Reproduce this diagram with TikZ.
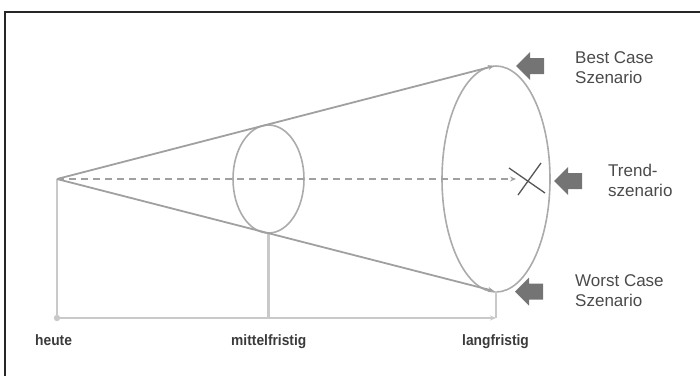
\documentclass[tikz,border=0pt]{standalone}
\usepackage{fontspec}
\usepackage{graphicx}
\setmainfont{Liberation Sans}
\usetikzlibrary{shapes.geometric,arrows.meta}
\definecolor{linegray}{HTML}{A0A0A0}
\definecolor{ellgray}{HTML}{ABABAB}
\definecolor{axisgray}{HTML}{C9C9C9}
\definecolor{blockgray}{HTML}{747474}
\definecolor{xgray}{HTML}{555555}
\definecolor{txtgray}{HTML}{4A4A4A}
\definecolor{lbltxt}{HTML}{3A3A3A}
\newcommand\narrowlbl[1]{\scalebox{0.92}[1]{#1}}
\begin{document}
\begin{tikzpicture}[x=1pt,y=-1pt,
  frameline/.style={draw=black!85,line width=2.4pt},
  mainline/.style={draw=linegray,line width=1.8pt,-{Stealth[length=6pt,width=5pt]}},
  dashline/.style={mainline,dash pattern=on 7pt off 5pt},
  axisline/.style={draw=axisgray,line width=2.1pt},
  ellbox/.style={draw=ellgray,line width=1.6pt,ellipse,inner sep=0pt},
  scenlabel/.style={anchor=north west,inner sep=0pt,align=left,text=txtgray,font=\fontsize{17}{20.5}\selectfont},
  timelabel/.style={anchor=base west,inner sep=0pt,text=lbltxt,font=\fontsize{15}{17}\selectfont\bfseries},
  blockarrow/.style={fill=blockgray,draw=none},
  xmark/.style={draw=xgray,line width=1.3pt}]
\useasboundingbox (0,0) rectangle (700,376);
% frame (top and left only)
\draw[frameline] (5,12) -- (700,12);
\draw[frameline] (5,11) -- (5,376);

% ellipses
\node[ellbox,minimum width=71pt,minimum height=108pt] (mid) at (268.5,179) {};
\node[ellbox,minimum width=108pt,minimum height=226pt] (long) at (496,179) {};

% key points
\coordinate (apex) at (57,179);
\coordinate (best) at (494,66);
\coordinate (worst) at (494,291);
\coordinate (trend) at (516,179);
\coordinate (axis0) at (57,318);
\coordinate (axis1) at (268.5,318);
\coordinate (axis2) at (496,318);
\coordinate (longbot) at (496,291);

% axis / verticals
\draw[axisline] (apex) -- (axis0);
\draw[axisline] (mid.south) -- (axis1);
\draw[axisline] (longbot) -- (axis2);
\draw[axisline,-{Stealth[length=6pt,width=5pt]}] (axis0) -- (axis2);
\fill[axisgray] (axis0) circle (3.2pt);

% cone lines
\draw[mainline] (apex) -- (best);
\draw[mainline] (apex) -- (worst);
\draw[dashline] (apex) -- (trend);

% X mark
\coordinate (xa1) at (509,168);
\coordinate (xa2) at (545,193);
\coordinate (xb1) at (541,163);
\coordinate (xb2) at (518,195);
\draw[xmark] (xa1) -- (xa2);
\draw[xmark] (xb1) -- (xb2);

% block arrows
\coordinate (bA) at (516,66);
\coordinate (bB) at (554,181);
\coordinate (bC) at (515,291.5);
\foreach \p in {bA,bB,bC}{
  \fill[blockarrow] (\p) -- ++(14,-14) -- ++(0,6) -- ++(14,0) -- ++(0,16) -- ++(-14,0) -- ++(0,6) -- cycle;
}

% labels
\node[scenlabel] (lbest) at (575,51) {Best Case\\Szenario};
\node[scenlabel] (ltrend) at (608,163.5) {Trend-\\szenario};
\node[scenlabel] (lworst) at (575,274) {Worst Case\\Szenario};
\node[timelabel] (lheute) at (35,345) {\narrowlbl{heute}};
\node[timelabel] (lmittel) at (231,345) {\narrowlbl{mittelfristig}};
\node[timelabel] (llang) at (462,345) {\narrowlbl{langfristig}};
\end{tikzpicture}
\end{document}
